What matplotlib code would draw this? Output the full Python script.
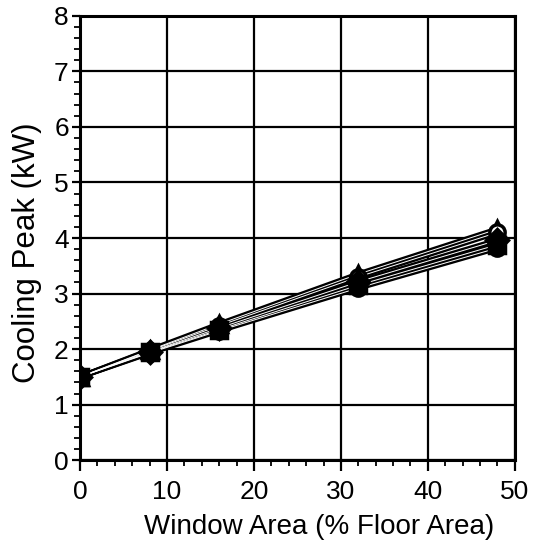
import matplotlib
matplotlib.use("Agg")
import matplotlib.pyplot as plt
from matplotlib.ticker import MultipleLocator

plt.rcParams["font.family"] = ["Liberation Sans", "DejaVu Sans"]

window_area = [0, 8, 16, 32, 48]
series_filled_circle = [1.50, 1.93, 2.33, 3.10, 3.82]
series_square = [1.50, 1.94, 2.35, 3.15, 3.88]
series_diamond = [1.50, 1.95, 2.38, 3.21, 3.96]
series_open_circle = [1.50, 1.97, 2.42, 3.30, 4.10]
series_triangle = [1.50, 1.98, 2.45, 3.35, 4.16]

fig = plt.figure(figsize=(5.33, 5.44), dpi=100)
ax = fig.add_axes([0.150, 0.154, 0.816, 0.817])

styles = [
    (series_triangle, "^", "white"),
    (series_open_circle, "o", "white"),
    (series_diamond, "D", "black"),
    (series_square, "s", "black"),
    (series_filled_circle, "o", "black"),
]
for values, marker, face in styles:
    ax.plot(window_area, values, color="black", linewidth=4, zorder=3)
for values, marker, face in styles:
    ax.plot(window_area, values, color="white", linewidth=0.7, zorder=3.5)
for values, marker, face in styles:
    ax.plot(window_area, values, linestyle="none", marker=marker, markersize=11,
            markerfacecolor=face, markeredgecolor="black", markeredgewidth=2.5,
            zorder=4)

ax.set_xlim(0, 50)
ax.set_ylim(0, 8)
ax.xaxis.set_major_locator(MultipleLocator(10))
ax.xaxis.set_minor_locator(MultipleLocator(2))
ax.yaxis.set_major_locator(MultipleLocator(1))
ax.yaxis.set_minor_locator(MultipleLocator(0.2))
ax.grid(True, which="major", color="black", linewidth=1.6)
ax.set_axisbelow(True)
for side in ax.spines.values():
    side.set_linewidth(2.2)
ax.tick_params(which="major", direction="out", length=8, width=1.6, labelsize=19, pad=6)
ax.tick_params(which="minor", direction="out", length=4, width=1.3)
ax.tick_params(axis="y", which="major", length=6, pad=2)

ax.set_xlabel("Window Area (% Floor Area)", fontsize=20)
ax.xaxis.set_label_coords(0.549, -0.151)
ax.xaxis.label.set_va("center")
ax.set_ylabel("Cooling Peak (kW)", fontsize=22.5)
ax.yaxis.set_label_coords(-0.122, 0.468)
ax.yaxis.label.set_va("center")

fig.savefig("out.png", dpi=100)
